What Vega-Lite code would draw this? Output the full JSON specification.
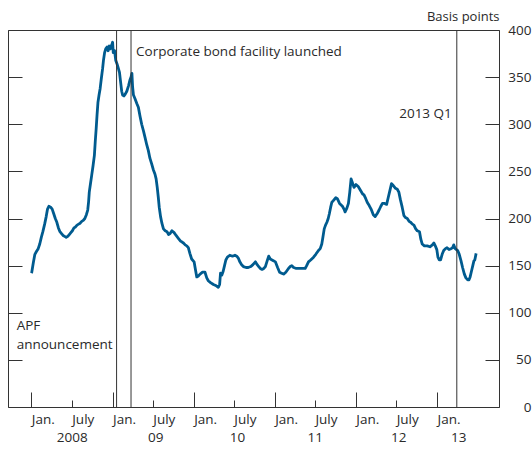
{
  "$schema": "https://vega.github.io/schema/vega-lite/v6.json",
  "width": 491,
  "height": 377,
  "autosize": {"type": "none"},
  "padding": {"left": 8, "top": 30, "right": 33, "bottom": 44},
  "background": "white",
  "config": {
    "view": {"stroke": "#333333", "strokeWidth": 1},
    "font": "Open Sans",
    "axis": {"labelFont": "Open Sans", "labelFontSize": 13.5, "labelColor": "#2a2a2a", "tickColor": "#333333", "tickWidth": 1, "grid": false, "domain": false, "titleFont": "Open Sans", "titleFontWeight": "normal", "titleFontSize": 13, "titleColor": "#2a2a2a"}
  },
  "datasets": {
    "spread": [
      {"date": "2008-01-01", "bp": 142}, {"date": "2008-01-03", "bp": 143}, {"date": "2008-01-10", "bp": 153}, {"date": "2008-01-17", "bp": 162}, {"date": "2008-01-24", "bp": 165}, {"date": "2008-02-01", "bp": 168}, {"date": "2008-02-08", "bp": 173}, {"date": "2008-02-15", "bp": 180}, {"date": "2008-02-22", "bp": 186}, {"date": "2008-03-01", "bp": 194}, {"date": "2008-03-08", "bp": 202}, {"date": "2008-03-14", "bp": 210}, {"date": "2008-03-20", "bp": 213}, {"date": "2008-03-28", "bp": 212}, {"date": "2008-04-04", "bp": 210}, {"date": "2008-04-11", "bp": 205}, {"date": "2008-04-18", "bp": 200}, {"date": "2008-04-25", "bp": 196}, {"date": "2008-05-02", "bp": 190}, {"date": "2008-05-09", "bp": 186}, {"date": "2008-05-16", "bp": 184}, {"date": "2008-05-23", "bp": 182}, {"date": "2008-05-30", "bp": 181}, {"date": "2008-06-06", "bp": 180}, {"date": "2008-06-13", "bp": 181}, {"date": "2008-06-20", "bp": 183}, {"date": "2008-06-27", "bp": 185}, {"date": "2008-07-04", "bp": 187}, {"date": "2008-07-11", "bp": 190}, {"date": "2008-07-18", "bp": 191}, {"date": "2008-07-25", "bp": 193}, {"date": "2008-08-01", "bp": 194}, {"date": "2008-08-08", "bp": 195}, {"date": "2008-08-15", "bp": 197}, {"date": "2008-08-22", "bp": 198}, {"date": "2008-08-29", "bp": 200}, {"date": "2008-09-05", "bp": 204}, {"date": "2008-09-11", "bp": 209}, {"date": "2008-09-15", "bp": 218}, {"date": "2008-09-18", "bp": 228}, {"date": "2008-09-24", "bp": 238}, {"date": "2008-09-29", "bp": 246}, {"date": "2008-10-05", "bp": 256}, {"date": "2008-10-11", "bp": 267}, {"date": "2008-10-15", "bp": 282}, {"date": "2008-10-19", "bp": 295}, {"date": "2008-10-23", "bp": 310}, {"date": "2008-10-27", "bp": 323}, {"date": "2008-11-01", "bp": 331}, {"date": "2008-11-06", "bp": 338}, {"date": "2008-11-11", "bp": 348}, {"date": "2008-11-17", "bp": 359}, {"date": "2008-11-21", "bp": 368}, {"date": "2008-11-26", "bp": 376}, {"date": "2008-12-01", "bp": 380}, {"date": "2008-12-07", "bp": 382}, {"date": "2008-12-12", "bp": 378}, {"date": "2008-12-17", "bp": 383}, {"date": "2008-12-22", "bp": 380}, {"date": "2008-12-28", "bp": 384}, {"date": "2009-01-01", "bp": 387}, {"date": "2009-01-04", "bp": 376}, {"date": "2009-01-10", "bp": 378}, {"date": "2009-01-15", "bp": 368}, {"date": "2009-01-21", "bp": 364}, {"date": "2009-01-26", "bp": 360}, {"date": "2009-02-01", "bp": 355}, {"date": "2009-02-06", "bp": 345}, {"date": "2009-02-11", "bp": 335}, {"date": "2009-02-15", "bp": 331}, {"date": "2009-02-21", "bp": 330}, {"date": "2009-02-27", "bp": 332}, {"date": "2009-03-06", "bp": 335}, {"date": "2009-03-14", "bp": 341}, {"date": "2009-03-20", "bp": 347}, {"date": "2009-03-25", "bp": 350}, {"date": "2009-03-29", "bp": 354}, {"date": "2009-04-01", "bp": 340}, {"date": "2009-04-05", "bp": 331}, {"date": "2009-04-12", "bp": 327}, {"date": "2009-04-20", "bp": 322}, {"date": "2009-04-27", "bp": 318}, {"date": "2009-05-05", "bp": 308}, {"date": "2009-05-12", "bp": 300}, {"date": "2009-05-20", "bp": 293}, {"date": "2009-05-27", "bp": 286}, {"date": "2009-06-04", "bp": 278}, {"date": "2009-06-11", "bp": 272}, {"date": "2009-06-18", "bp": 264}, {"date": "2009-06-26", "bp": 258}, {"date": "2009-07-03", "bp": 252}, {"date": "2009-07-11", "bp": 247}, {"date": "2009-07-16", "bp": 242}, {"date": "2009-07-21", "bp": 233}, {"date": "2009-07-26", "bp": 222}, {"date": "2009-07-30", "bp": 212}, {"date": "2009-08-05", "bp": 202}, {"date": "2009-08-11", "bp": 195}, {"date": "2009-08-18", "bp": 189}, {"date": "2009-08-26", "bp": 187}, {"date": "2009-09-03", "bp": 186}, {"date": "2009-09-10", "bp": 183}, {"date": "2009-09-17", "bp": 184}, {"date": "2009-09-25", "bp": 187}, {"date": "2009-10-05", "bp": 185}, {"date": "2009-10-14", "bp": 182}, {"date": "2009-10-24", "bp": 179}, {"date": "2009-11-03", "bp": 176}, {"date": "2009-11-10", "bp": 175}, {"date": "2009-11-16", "bp": 174}, {"date": "2009-11-24", "bp": 172}, {"date": "2009-12-01", "bp": 171}, {"date": "2009-12-08", "bp": 169}, {"date": "2009-12-15", "bp": 163}, {"date": "2009-12-23", "bp": 157}, {"date": "2010-01-03", "bp": 154}, {"date": "2010-01-09", "bp": 146}, {"date": "2010-01-15", "bp": 138}, {"date": "2010-01-22", "bp": 139}, {"date": "2010-01-30", "bp": 141}, {"date": "2010-02-10", "bp": 143}, {"date": "2010-02-21", "bp": 143}, {"date": "2010-03-01", "bp": 137}, {"date": "2010-03-08", "bp": 134}, {"date": "2010-03-18", "bp": 132}, {"date": "2010-03-31", "bp": 130}, {"date": "2010-04-10", "bp": 129}, {"date": "2010-04-22", "bp": 127}, {"date": "2010-04-28", "bp": 130}, {"date": "2010-05-02", "bp": 142}, {"date": "2010-05-08", "bp": 140}, {"date": "2010-05-14", "bp": 144}, {"date": "2010-05-20", "bp": 150}, {"date": "2010-05-26", "bp": 156}, {"date": "2010-06-02", "bp": 159}, {"date": "2010-06-13", "bp": 161}, {"date": "2010-06-25", "bp": 160}, {"date": "2010-07-06", "bp": 161}, {"date": "2010-07-14", "bp": 160}, {"date": "2010-07-21", "bp": 158}, {"date": "2010-07-28", "bp": 154}, {"date": "2010-08-05", "bp": 151}, {"date": "2010-08-13", "bp": 149}, {"date": "2010-08-25", "bp": 148}, {"date": "2010-09-04", "bp": 148}, {"date": "2010-09-15", "bp": 149}, {"date": "2010-09-25", "bp": 151}, {"date": "2010-10-06", "bp": 154}, {"date": "2010-10-14", "bp": 151}, {"date": "2010-10-21", "bp": 149}, {"date": "2010-10-28", "bp": 147}, {"date": "2010-11-05", "bp": 146}, {"date": "2010-11-13", "bp": 147}, {"date": "2010-11-20", "bp": 149}, {"date": "2010-11-28", "bp": 155}, {"date": "2010-12-05", "bp": 160}, {"date": "2010-12-12", "bp": 157}, {"date": "2010-12-20", "bp": 156}, {"date": "2010-12-28", "bp": 155}, {"date": "2011-01-04", "bp": 154}, {"date": "2011-01-14", "bp": 148}, {"date": "2011-01-23", "bp": 143}, {"date": "2011-02-01", "bp": 142}, {"date": "2011-02-10", "bp": 141}, {"date": "2011-02-20", "bp": 143}, {"date": "2011-03-04", "bp": 147}, {"date": "2011-03-12", "bp": 149}, {"date": "2011-03-19", "bp": 150}, {"date": "2011-03-27", "bp": 148}, {"date": "2011-04-08", "bp": 147}, {"date": "2011-04-20", "bp": 147}, {"date": "2011-05-03", "bp": 147}, {"date": "2011-05-18", "bp": 147}, {"date": "2011-05-25", "bp": 150}, {"date": "2011-06-02", "bp": 154}, {"date": "2011-06-12", "bp": 156}, {"date": "2011-06-25", "bp": 159}, {"date": "2011-07-05", "bp": 162}, {"date": "2011-07-17", "bp": 166}, {"date": "2011-07-25", "bp": 168}, {"date": "2011-08-01", "bp": 173}, {"date": "2011-08-06", "bp": 180}, {"date": "2011-08-12", "bp": 189}, {"date": "2011-08-18", "bp": 193}, {"date": "2011-08-24", "bp": 196}, {"date": "2011-08-30", "bp": 200}, {"date": "2011-09-04", "bp": 205}, {"date": "2011-09-10", "bp": 212}, {"date": "2011-09-15", "bp": 217}, {"date": "2011-09-22", "bp": 219}, {"date": "2011-10-03", "bp": 222}, {"date": "2011-10-10", "bp": 221}, {"date": "2011-10-20", "bp": 216}, {"date": "2011-11-02", "bp": 213}, {"date": "2011-11-09", "bp": 210}, {"date": "2011-11-14", "bp": 207}, {"date": "2011-11-22", "bp": 211}, {"date": "2011-11-29", "bp": 216}, {"date": "2011-12-05", "bp": 228}, {"date": "2011-12-11", "bp": 242}, {"date": "2011-12-17", "bp": 238}, {"date": "2011-12-24", "bp": 233}, {"date": "2012-01-02", "bp": 236}, {"date": "2012-01-12", "bp": 234}, {"date": "2012-01-22", "bp": 230}, {"date": "2012-02-01", "bp": 226}, {"date": "2012-02-07", "bp": 225}, {"date": "2012-02-15", "bp": 221}, {"date": "2012-02-22", "bp": 217}, {"date": "2012-03-01", "bp": 214}, {"date": "2012-03-10", "bp": 210}, {"date": "2012-03-20", "bp": 204}, {"date": "2012-03-28", "bp": 202}, {"date": "2012-04-06", "bp": 205}, {"date": "2012-04-15", "bp": 209}, {"date": "2012-04-23", "bp": 213}, {"date": "2012-04-30", "bp": 216}, {"date": "2012-05-10", "bp": 216}, {"date": "2012-05-19", "bp": 215}, {"date": "2012-05-26", "bp": 222}, {"date": "2012-06-01", "bp": 228}, {"date": "2012-06-10", "bp": 237}, {"date": "2012-06-18", "bp": 235}, {"date": "2012-06-28", "bp": 232}, {"date": "2012-07-06", "bp": 231}, {"date": "2012-07-13", "bp": 228}, {"date": "2012-07-20", "bp": 220}, {"date": "2012-07-28", "bp": 212}, {"date": "2012-08-05", "bp": 203}, {"date": "2012-08-12", "bp": 201}, {"date": "2012-08-20", "bp": 200}, {"date": "2012-08-28", "bp": 197}, {"date": "2012-09-04", "bp": 196}, {"date": "2012-09-12", "bp": 194}, {"date": "2012-09-19", "bp": 193}, {"date": "2012-09-27", "bp": 189}, {"date": "2012-10-04", "bp": 187}, {"date": "2012-10-14", "bp": 186}, {"date": "2012-10-20", "bp": 178}, {"date": "2012-10-26", "bp": 173}, {"date": "2012-11-05", "bp": 171}, {"date": "2012-11-18", "bp": 171}, {"date": "2012-11-30", "bp": 170}, {"date": "2012-12-11", "bp": 172}, {"date": "2012-12-18", "bp": 174}, {"date": "2012-12-24", "bp": 171}, {"date": "2012-12-31", "bp": 167}, {"date": "2013-01-05", "bp": 159}, {"date": "2013-01-11", "bp": 156}, {"date": "2013-01-17", "bp": 156}, {"date": "2013-01-24", "bp": 162}, {"date": "2013-01-31", "bp": 166}, {"date": "2013-02-08", "bp": 168}, {"date": "2013-02-15", "bp": 169}, {"date": "2013-02-24", "bp": 167}, {"date": "2013-03-05", "bp": 168}, {"date": "2013-03-12", "bp": 169}, {"date": "2013-03-17", "bp": 172}, {"date": "2013-03-24", "bp": 168}, {"date": "2013-04-04", "bp": 166}, {"date": "2013-04-11", "bp": 162}, {"date": "2013-04-19", "bp": 155}, {"date": "2013-04-26", "bp": 148}, {"date": "2013-05-04", "bp": 141}, {"date": "2013-05-11", "bp": 137}, {"date": "2013-05-19", "bp": 135}, {"date": "2013-05-25", "bp": 135}, {"date": "2013-05-30", "bp": 138}, {"date": "2013-06-05", "bp": 144}, {"date": "2013-06-11", "bp": 150}, {"date": "2013-06-16", "bp": 155}, {"date": "2013-06-20", "bp": 156}, {"date": "2013-06-26", "bp": 163}
    ],
    "events": [
      {"date": "2009-01-19", "event": "APF announcement"},
      {"date": "2009-03-25", "event": "Corporate bond facility launched"},
      {"date": "2013-03-31", "event": "2013 Q1"}
    ],
    "notesTop": [
      {"date": "2009-03-25", "bp": 372, "label": "Corporate bond facility launched"}
    ],
    "notesApf": [
      {"date": "2007-10-27", "bp": 93, "label": "APF\nannouncement"}
    ],
    "notesRight": [
      {"date": "2013-03-31", "bp": 311, "label": "2013 Q1"}
    ]
  },
  "resolve": {"axis": {"x": "independent", "y": "independent"}},
  "layer": [
    {
      "data": {"name": "spread"},
      "mark": {"type": "line", "color": "#005b8f", "strokeWidth": 2.8, "strokeJoin": "round", "interpolate": "linear"},
      "encoding": {
        "x": {"field": "date", "type": "temporal",
          "scale": {"type": "utc", "domain": [{"year": 2007, "month": 9, "date": 18, "utc": true}, {"year": 2013, "month": 10, "date": 7, "utc": true}]},
          "axis": {"orient": "bottom", "title": null,
            "values": [{"year": 2008, "month": 1, "date": 1, "utc": true}, {"year": 2009, "month": 1, "date": 1, "utc": true}, {"year": 2010, "month": 1, "date": 1, "utc": true}, {"year": 2011, "month": 1, "date": 1, "utc": true}, {"year": 2012, "month": 1, "date": 1, "utc": true}, {"year": 2013, "month": 1, "date": 1, "utc": true}],
            "labelExpr": "'Jan.'", "tickSize": -15, "labelPadding": 20, "labelAlign": "left", "labelBaseline": "top", "labelFlush": false, "labelOverlap": false}},
        "y": {"field": "bp", "type": "quantitative",
          "scale": {"domain": [0, 400], "nice": false, "zero": true},
          "axis": {"orient": "right", "values": [0, 50, 100, 150, 200, 250, 300, 350, 400], "tickSize": -14, "labelPadding": 46, "labelAlign": "right", "labelBaseline": "middle", "labelFlush": false, "labelOverlap": false,
            "title": "Basis points", "titleAngle": 0, "titleAlign": "right", "titleBaseline": "alphabetic", "titleX": 0, "titleY": -10}}
      }
    },
    {
      "data": {"name": "events"},
      "mark": {"type": "rule", "color": "#333333", "strokeWidth": 1},
      "encoding": {
        "x": {"field": "date", "type": "temporal",
          "scale": {"type": "utc", "domain": [{"year": 2007, "month": 9, "date": 18, "utc": true}, {"year": 2013, "month": 10, "date": 7, "utc": true}]},
          "axis": {"orient": "bottom", "title": null, "ticks": false,
            "values": [{"year": 2008, "month": 7, "date": 1, "utc": true}, {"year": 2009, "month": 7, "date": 12, "utc": true}, {"year": 2010, "month": 7, "date": 15, "utc": true}, {"year": 2011, "month": 6, "date": 30, "utc": true}, {"year": 2012, "month": 7, "date": 10, "utc": true}, {"year": 2013, "month": 4, "date": 6, "utc": true}],
            "labelExpr": "utcFormat(datum.value, '%Y') == '2008' ? '2008' : utcFormat(datum.value, '%y')", "labelPadding": 23, "labelAlign": "center", "labelBaseline": "top", "labelFlush": false, "labelOverlap": false}}
      }
    },
    {
      "data": {"name": "notesTop"},
      "mark": {"type": "text", "align": "left", "baseline": "alphabetic", "dx": 5, "fontSize": 13.5, "color": "#2a2a2a", "font": "Open Sans"},
      "encoding": {
        "x": {"field": "date", "type": "temporal",
          "scale": {"type": "utc", "domain": [{"year": 2007, "month": 9, "date": 18, "utc": true}, {"year": 2013, "month": 10, "date": 7, "utc": true}]},
          "axis": {"orient": "bottom", "title": null,
            "values": [{"year": 2008, "month": 7, "date": 1, "utc": true}, {"year": 2009, "month": 7, "date": 1, "utc": true}, {"year": 2010, "month": 7, "date": 1, "utc": true}, {"year": 2011, "month": 7, "date": 1, "utc": true}, {"year": 2012, "month": 7, "date": 1, "utc": true}],
            "labelExpr": "'July'", "tickSize": -7, "labelPadding": 12, "labelAlign": "left", "labelBaseline": "top", "labelFlush": false, "labelOverlap": false}},
        "y": {"field": "bp", "type": "quantitative",
          "scale": {"domain": [0, 400], "nice": false, "zero": true},
          "axis": {"orient": "left", "values": [0, 50, 100, 150, 200, 250, 300, 350, 400], "tickSize": -14, "labels": false, "title": null}},
        "text": {"field": "label"}
      }
    },
    {
      "data": {"name": "notesApf"},
      "mark": {"type": "text", "align": "left", "baseline": "top", "lineBreak": "\n", "lineHeight": 19, "fontSize": 13.5, "color": "#2a2a2a", "font": "Open Sans"},
      "encoding": {
        "x": {"field": "date", "type": "temporal",
          "scale": {"type": "utc", "domain": [{"year": 2007, "month": 9, "date": 18, "utc": true}, {"year": 2013, "month": 10, "date": 7, "utc": true}]},
          "axis": null},
        "y": {"field": "bp", "type": "quantitative", "scale": {"domain": [0, 400], "nice": false, "zero": true}, "axis": null},
        "text": {"field": "label"}
      }
    },
    {
      "data": {"name": "notesRight"},
      "mark": {"type": "text", "align": "right", "baseline": "middle", "dx": -5, "fontSize": 13.5, "color": "#2a2a2a", "font": "Open Sans"},
      "encoding": {
        "x": {"field": "date", "type": "temporal",
          "scale": {"type": "utc", "domain": [{"year": 2007, "month": 9, "date": 18, "utc": true}, {"year": 2013, "month": 10, "date": 7, "utc": true}]},
          "axis": null},
        "y": {"field": "bp", "type": "quantitative", "scale": {"domain": [0, 400], "nice": false, "zero": true}, "axis": null},
        "text": {"field": "label"}
      }
    }
  ]
}
